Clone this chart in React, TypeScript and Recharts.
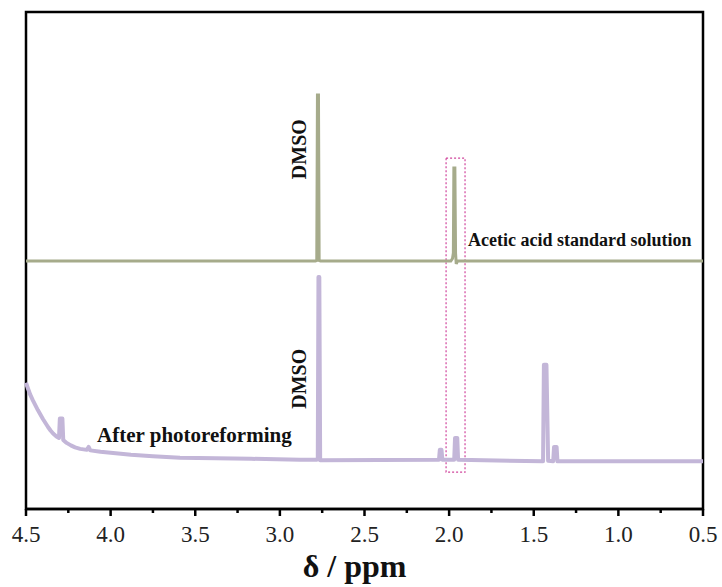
import React from 'react';
import {
  LineChart,
  Line,
  XAxis,
  YAxis,
  ReferenceArea,
  ReferenceDot,
} from 'recharts';

// chemical shift (ppm) / intensity pairs for each trace
const standardPpm = [4.5, 2.79, 2.782, 2.778, 2.772, 2.768, 2.76, 1.99, 1.98, 1.975, 1.972, 1.966, 1.962, 1.958, 1.95, 0.5];
const standardInt = [49.9, 49.9, 50.0, 83.3, 83.3, 50.0, 49.9, 49.9, 50.4, 51.5, 68.6, 68.6, 51.5, 49.3, 49.9, 49.9];

const reformedPpm = [
  4.5, 4.49, 4.475, 4.46, 4.445, 4.43, 4.415, 4.4, 4.385, 4.37, 4.355, 4.34, 4.32, 4.305, 4.3, 4.285,
  4.28, 4.26, 4.235, 4.21, 4.18, 4.14, 4.13, 4.12, 4.06, 3.97, 3.88, 3.75, 3.59, 3.17, 2.88, 2.785,
  2.776, 2.772, 2.767, 2.762, 2.06, 2.055, 2.045, 2.04, 1.97, 1.965, 1.952, 1.947, 1.445, 1.44,
  1.425, 1.415, 1.385, 1.38, 1.365, 1.36, 0.5,
];
const reformedInt = [
  25.4, 24.4, 23.0, 21.9, 20.9, 19.9, 19.0, 18.1, 17.3, 16.5, 15.8, 15.2, 14.6, 14.3, 18.2, 18.2,
  13.9, 13.3, 12.8, 12.4, 12.1, 11.9, 12.5, 11.8, 11.5, 11.2, 10.9, 10.6, 10.3, 10.1, 9.9, 9.9,
  10.0, 46.7, 46.7, 9.8, 9.9, 11.9, 11.9, 9.9, 9.9, 14.3, 14.3, 9.9, 9.6, 29.0,
  29.0, 9.7, 9.6, 12.5, 12.5, 9.6, 9.6,
];

const majorTicks = [4.5, 4.0, 3.5, 3.0, 2.5, 2.0, 1.5, 1.0, 0.5];
const minorTicks = [4.25, 3.75, 3.25, 2.75, 2.25, 1.75, 1.25, 0.75];

const standardData = standardPpm.map((ppm, i) => ({ ppm, v: standardInt[i] }));
const reformedData = reformedPpm.map((ppm, i) => ({ ppm, v: reformedInt[i] }));

const SERIF = 'Liberation Serif, Times New Roman, DejaVu Serif, serif';

const AxisTick = (props: any) => {
  const { x, y, payload } = props;
  const major = majorTicks.includes(payload.value);
  return (
    <g>
      <line x1={x} x2={x} y1={y} y2={y + (major ? 7 : 4)} stroke="#000" strokeWidth={2.5} />
      {major && (
        <text x={x} y={y + 33} textAnchor="middle" style={{ fontFamily: SERIF, fontSize: 23 }} fill="#222">
          {payload.value.toFixed(1)}
        </text>
      )}
    </g>
  );
};

const rotatedLabel = (text: string) => (p: any) => {
  const { x, y } = p.viewBox;
  return (
    <text
      x={x}
      y={y}
      transform={`rotate(-90 ${x} ${y})`}
      textAnchor="middle"
      dominantBaseline="central"
      style={{ fontFamily: SERIF, fontWeight: 'bold', fontSize: 20 }}
      fill="#111"
    >
      {text}
    </text>
  );
};

const plainLabel = (text: string, size: number) => (p: any) => {
  const { x, y } = p.viewBox;
  return (
    <text x={x} y={y} style={{ fontFamily: SERIF, fontWeight: 'bold', fontSize: size }} fill="#111">
      {text}
    </text>
  );
};

export default function App() {
  return (
    <div style={{ position: 'absolute', left: 0, top: 0, background: '#fff' }}>
      <LineChart width={722} height={587} margin={{ top: 12, right: 19, bottom: 8, left: 26 }}>
        <XAxis
          type="number"
          dataKey="ppm"
          domain={[0.5, 4.5]}
          reversed
          ticks={[...majorTicks, ...minorTicks].sort((a, b) => a - b)}
          tick={<AxisTick />}
          tickLine={false}
          tickSize={0}
          tickMargin={0}
          height={70}
          axisLine={{ stroke: '#000', strokeWidth: 2.5 }}
          allowDuplicatedCategory={false}
          label={(p: any) => {
            const vb = p.viewBox;
            return (
              <text
                x={vb.x + vb.width / 2 - 10}
                y={vb.y + 68}
                textAnchor="middle"
                style={{ fontFamily: SERIF, fontWeight: 'bold', fontSize: 32 }}
                fill="#111"
              >
                δ / ppm
              </text>
            );
          }}
        />
        <YAxis type="number" domain={[0, 100]} hide />
        <ReferenceArea x1={4.5} x2={0.5} y1={0} y2={100} fill="none" stroke="#000" strokeWidth={2.5} ifOverflow="visible" />
        <Line
          data={standardData}
          dataKey="v"
          type="linear"
          stroke="#a6ab8b"
          strokeWidth={3}
          dot={false}
          isAnimationActive={false}
        />
        <Line
          data={reformedData}
          dataKey="v"
          type="linear"
          stroke="#c3b6d8"
          strokeWidth={4}
          strokeLinejoin="round"
          dot={false}
          isAnimationActive={false}
        />
        <ReferenceArea
          x1={2.018}
          x2={1.906}
          y1={7.4}
          y2={70.6}
          fill="none"
          stroke="#d0449c"
          strokeWidth={1.2}
          strokeDasharray="2 2"
        />
        <ReferenceDot x={2.887} y={72.4} r={0} label={rotatedLabel('DMSO')} />
        <ReferenceDot x={2.887} y={26.2} r={0} label={rotatedLabel('DMSO')} />
        <ReferenceDot x={1.888} y={52.9} r={0} label={plainLabel('Acetic acid standard solution', 18)} />
        <ReferenceDot x={4.08} y={13.5} r={0} label={plainLabel('After photoreforming', 21)} />
      </LineChart>
    </div>
  );
}
